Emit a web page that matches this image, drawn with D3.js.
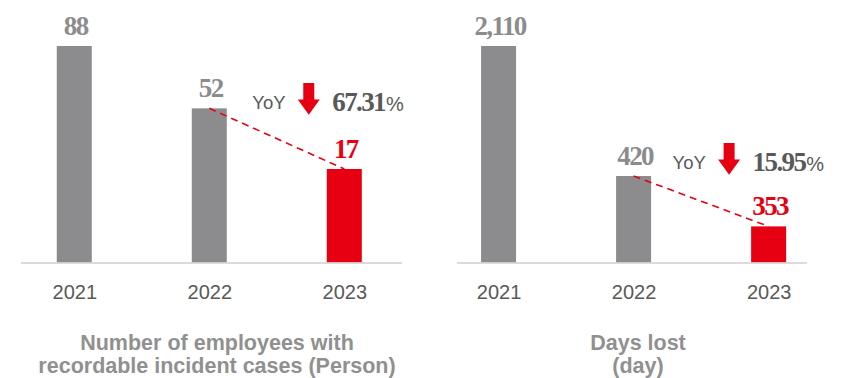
<!DOCTYPE html>
<html>
<head>
<meta charset="utf-8">
<script src="https://cdn.jsdelivr.net/npm/d3@7"></script>
<style>
  body { margin: 0; background: #fff; }
  svg { display: block; }
</style>
</head>
<body>
<svg id="chart" width="843" height="378"></svg>
<script>
// ---- data ----
const years = ["2021", "2022", "2023"];
const incidentCases = [88, 52, 17];
const daysLost = [2110, 420, 353];
const incidentYoY = "67.31";
const daysLostYoY = "15.95";
const incidentTitle = ["Number of employees with", "recordable incident cases (Person)"];
const daysLostTitle = ["Days lost", "(day)"];

// ---- styling ----
const GREY = "#8c8c8e";
const RED = "#e60012";
const TEXT = "#595959";
const TITLE = "#909090";
const SANS = "'Liberation Sans', Arial, sans-serif";
const SERIF = "'Liberation Serif', 'Times New Roman', serif";

const baseY = 262.5, topY = 46;
const barW = 35;

const panels = [
  {
    values: incidentCases, yoy: incidentYoY, title: incidentTitle,
    axis: [21, 402], padding: 0.411, align: 0.48,
    y: d3.scaleLinear().domain([-37, 88]).range([baseY, topY]),
    titleX: 217, yoyDx: 43, yoyY: 109
  },
  {
    values: daysLost, yoy: daysLostYoY, title: daysLostTitle,
    axis: [457, 807], padding: 0.296, align: 0.52,
    // broken value axis: the short bars are stretched relative to the tall one
    y: d3.scaleLinear().domain([305, 420, 2110]).range([baseY, 176, topY]),
    titleX: 638, yoyDx: 39, yoyY: 169
  }
];

const svg = d3.select("#chart");
svg.append("rect").attr("width", 843).attr("height", 378).attr("fill", "#fff");

const fmt = d3.format(",");

panels.forEach(p => {
  const x = d3.scalePoint().domain(years).range(p.axis).padding(p.padding).align(p.align);
  const y = p.y;
  const g = svg.append("g");
  const rows = years.map((yr, i) => ({ year: yr, value: p.values[i], last: i === years.length - 1 }));

  // bars
  g.selectAll("rect.bar").data(rows).join("rect")
    .attr("class", "bar")
    .attr("x", d => x(d.year) - barW / 2)
    .attr("y", d => y(d.value))
    .attr("width", barW)
    .attr("height", d => baseY - y(d.value))
    .attr("fill", d => d.last ? RED : GREY);

  // baseline axis with year labels
  const axis = d3.axisBottom(x).tickSize(0).tickPadding(22);
  const ag = g.append("g").attr("transform", `translate(0,${baseY})`).call(axis);
  ag.select(".domain").attr("stroke", "#cfcfcf").attr("stroke-width", 1.6)
    .attr("d", `M${p.axis[0]},0.5H${p.axis[1]}`);
  ag.selectAll(".tick text")
    .attr("font-family", SANS).attr("font-size", 20).attr("fill", TEXT)
    .attr("dy", 0).attr("y", 36.5);

  // value labels
  g.selectAll("text.val").data(rows).join("text")
    .attr("class", "val")
    .attr("x", d => x(d.year) + 1.5)
    .attr("y", d => y(d.value) - 11)
    .attr("text-anchor", "middle")
    .attr("font-family", SERIF).attr("font-weight", "bold")
    .attr("font-size", 27).attr("letter-spacing", "-1.6px")
    .attr("fill", d => d.last ? RED : GREY)
    .text(d => fmt(d.value));

  // dashed trend between the last two years
  const a = rows[1], b = rows[2];
  g.append("line")
    .attr("x1", x(a.year)).attr("y1", y(a.value))
    .attr("x2", x(b.year)).attr("y2", y(b.value))
    .attr("stroke", RED).attr("stroke-width", 1.6)
    .attr("stroke-dasharray", "7,5");

  // YoY annotation
  const ax = x(a.year) + p.yoyDx, ay = p.yoyY;
  g.append("text")
    .attr("x", ax).attr("y", ay)
    .attr("font-family", SANS).attr("font-size", 18.5).attr("fill", TEXT)
    .text("YoY");

  const cx = ax + 56.5, t = ay - 26, bot = ay + 5.7, headTop = ay - 9.5;
  const arrow = d3.path();
  arrow.moveTo(cx - 5.5, t);
  arrow.lineTo(cx + 5.5, t);
  arrow.lineTo(cx + 5.5, headTop);
  arrow.lineTo(cx + 11, headTop);
  arrow.lineTo(cx, bot);
  arrow.lineTo(cx - 11, headTop);
  arrow.lineTo(cx - 5.5, headTop);
  arrow.closePath();
  g.append("path").attr("d", arrow.toString()).attr("fill", RED);

  const yt = g.append("text").attr("x", ax + 80).attr("y", ay + 2).attr("fill", TEXT);
  yt.append("tspan")
    .attr("font-family", SERIF).attr("font-weight", "bold")
    .attr("font-size", 27).attr("letter-spacing", "-1.6px")
    .text(p.yoy);
  yt.append("tspan")
    .attr("font-family", SANS).attr("font-size", 20).attr("dx", 1)
    .text("%");

  // panel title
  const tt = g.append("text")
    .attr("text-anchor", "middle")
    .attr("font-family", SANS).attr("font-weight", "bold")
    .attr("font-size", 21.5).attr("fill", TITLE);
  p.title.forEach((line, i) => {
    tt.append("tspan").attr("x", p.titleX).attr("y", 349.5 + i * 23).text(line);
  });
});
</script>
</body>
</html>
